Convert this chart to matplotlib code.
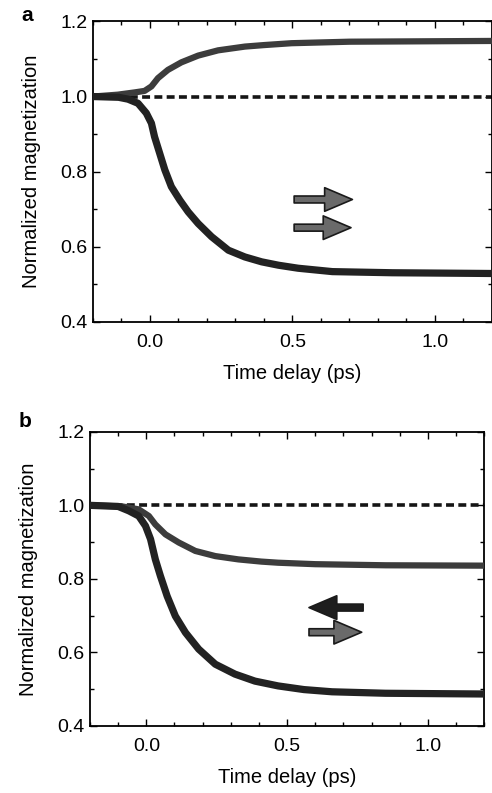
#!/usr/bin/env python3
import matplotlib
matplotlib.use("Agg")
import matplotlib.pyplot as plt
from matplotlib.patches import FancyArrowPatch
from matplotlib.ticker import MultipleLocator

# --- values ---
# panel a
t_a_up = [-0.2, -0.113, -0.054, -0.019, 0.005, 0.028, 0.063, 0.11, 0.169, 0.239,
          0.333, 0.4, 0.497, 0.7, 1.2]
m_a_up = [1.0, 1.005, 1.011, 1.015, 1.027, 1.049, 1.071, 1.091, 1.109, 1.123,
          1.133, 1.137, 1.142, 1.146, 1.148]
t_a_dn = [-0.2, -0.11, -0.077, -0.042, -0.013, 0.005, 0.016, 0.034, 0.052, 0.075,
          0.105, 0.134, 0.169, 0.216, 0.275, 0.333, 0.392, 0.451, 0.52, 0.64, 0.85, 1.2]
m_a_dn = [1.0, 0.998, 0.993, 0.982, 0.956, 0.929, 0.893, 0.849, 0.805, 0.76,
          0.724, 0.693, 0.662, 0.627, 0.591, 0.573, 0.56, 0.551, 0.543, 0.534, 0.531, 0.529]

# panel b
t_b_up = [-0.2, -0.085, -0.027, 0.009, 0.032, 0.068, 0.115, 0.174, 0.245, 0.327,
          0.409, 0.468, 0.6, 0.85, 1.2]
m_b_up = [1.0, 0.997, 0.989, 0.971, 0.948, 0.921, 0.899, 0.876, 0.862, 0.853,
          0.847, 0.844, 0.840, 0.837, 0.836]
t_b_dn = [-0.2, -0.1, -0.062, -0.027, -0.003, 0.015, 0.032, 0.05, 0.074, 0.103,
          0.139, 0.186, 0.245, 0.315, 0.386, 0.468, 0.56, 0.66, 0.85, 1.2]
m_b_dn = [1.0, 0.997, 0.985, 0.971, 0.944, 0.908, 0.853, 0.808, 0.753, 0.699,
          0.654, 0.609, 0.568, 0.541, 0.522, 0.509, 0.499, 0.493, 0.489, 0.487]

# reference level
t_ref = [-0.2, 1.2]
m_ref = [1.0, 1.0]

# magnetization arrows: (tail_t, tip_t, level)
arrows_a = [(0.496, 0.72, 0.726), (0.496, 0.715, 0.651)]
arrows_b = [(0.78, 0.568, 0.722), (0.568, 0.775, 0.655)]

plt.rcParams['font.family'] = ['Liberation Sans', 'DejaVu Sans']


def style_axes(ax):
    ax.set_xlim(-0.2, 1.2)
    ax.set_ylim(0.4, 1.2)
    ax.xaxis.set_major_locator(MultipleLocator(0.5))
    ax.xaxis.set_minor_locator(MultipleLocator(0.1))
    ax.yaxis.set_major_locator(MultipleLocator(0.2))
    ax.yaxis.set_minor_locator(MultipleLocator(0.1))
    ax.xaxis.set_major_formatter(lambda v, p: f"{v:.1f}")
    ax.yaxis.set_major_formatter(lambda v, p: f"{v:.1f}")
    ax.tick_params(which='both', direction='in', top=True, right=True,
                   labelsize=14, width=1.0)
    ax.tick_params(axis='x', pad=9)
    ax.tick_params(axis='y', pad=4)
    ax.tick_params(which='major', length=5)
    ax.tick_params(which='minor', length=3)
    for s in ax.spines.values():
        s.set_linewidth(1.3)
    ax.set_xlabel("Time delay (ps)", fontsize=14.5, labelpad=9)
    ax.set_ylabel("Normalized magnetization", fontsize=14.5, labelpad=14)


def draw_arrow(ax, tail, tip, y, light_head):
    head_col = '#6a6a6a' if light_head else '#1e1e1e'
    arr = FancyArrowPatch((tail, y), (tip, y),
                          arrowstyle='simple,head_length=20,head_width=17,tail_width=5',
                          mutation_scale=1, facecolor=head_col, edgecolor='#1a1a1a',
                          linewidth=1.2, zorder=4)
    ax.add_patch(arr)


fig = plt.figure(figsize=(4.92, 7.93), dpi=100)
ax_a = fig.add_axes([0.189, 0.594, 0.811, 0.379])
ax_b = fig.add_axes([0.183, 0.0845, 0.801, 0.371])

for ax, tu, mu, td, md, arrows in (
        (ax_a, t_a_up, m_a_up, t_a_dn, m_a_dn, arrows_a),
        (ax_b, t_b_up, m_b_up, t_b_dn, m_b_dn, arrows_b)):
    ax.plot(t_ref, m_ref, color='#151515', lw=2.6, ls=(0, (2.2, 1.2)), zorder=2)
    ax.plot(tu, mu, color='#3c3c3c', lw=4.5, solid_joinstyle='round',
            solid_capstyle='butt', zorder=3)
    ax.plot(td, md, color='#222222', lw=5.2, solid_joinstyle='round',
            solid_capstyle='butt', zorder=3)
    for tail, tip, y in arrows:
        draw_arrow(ax, tail, tip, y, light_head=(tip > tail))
    style_axes(ax)

fig.text(0.056, 0.981, 'a', fontsize=15, fontweight='bold', va='center', ha='center')
fig.text(0.051, 0.469, 'b', fontsize=15, fontweight='bold', va='center', ha='center')

fig.savefig("out.png", dpi=100)
